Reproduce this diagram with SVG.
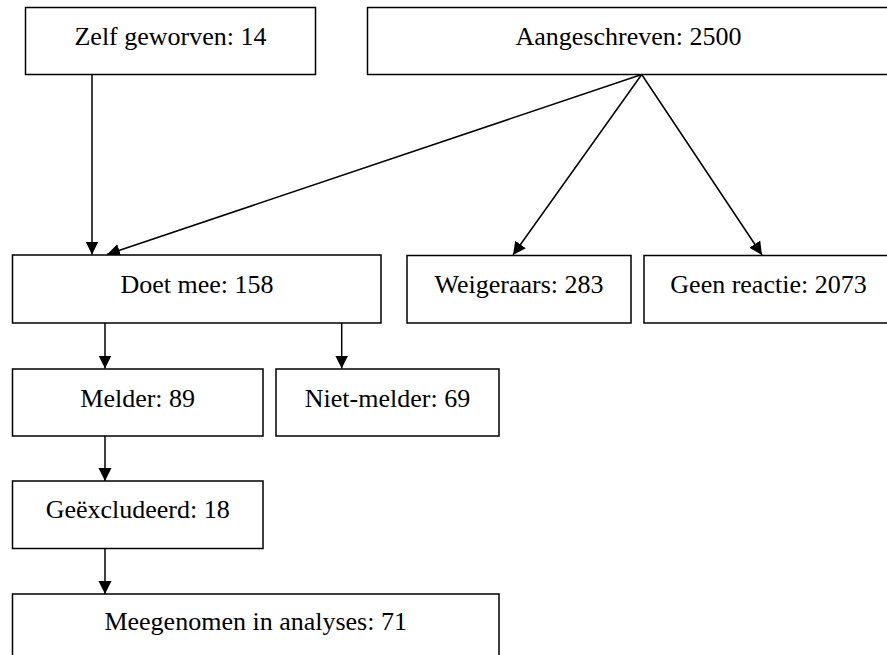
<svg xmlns="http://www.w3.org/2000/svg" width="887" height="655" viewBox="0 0 887 655">
  <defs>
    <style>
      .box { fill: #ffffff; stroke: #000000; stroke-width: 1.5; }
      .lbl { font-family: "Liberation Serif", "Times New Roman", serif; font-size: 26px; fill: #000000; text-anchor: middle; }
      .edge { fill: none; stroke: #000000; stroke-width: 1.5; marker-end: url(#arrow); }
    </style>
    <marker id="arrow" markerUnits="userSpaceOnUse" markerWidth="14" markerHeight="14" refX="13" refY="7" orient="auto">
      <path d="M0,0.5 L13,7 L0,13.5 z" fill="#000000"/>
    </marker>
  </defs>
  <rect x="0" y="0" width="887" height="655" fill="#ffffff"/>

  <g id="connectors">
    <line class="edge" x1="92" y1="74.5" x2="92" y2="254.5"/>
    <line class="edge" x1="641.7" y1="74.5" x2="107" y2="254.5"/>
    <line class="edge" x1="641.7" y1="74.5" x2="513" y2="255"/>
    <line class="edge" x1="641.7" y1="74.5" x2="762" y2="255"/>
    <line class="edge" x1="105" y1="323" x2="105" y2="368.5"/>
    <line class="edge" x1="341.7" y1="323" x2="341.7" y2="368.5"/>
    <line class="edge" x1="105" y1="436" x2="105" y2="481"/>
    <line class="edge" x1="105" y1="549" x2="105" y2="594"/>
  </g>

  <g id="zelf">
    <rect class="box" x="25.5" y="7.5" width="290" height="67"/>
    <text class="lbl" x="170.5" y="45">Zelf geworven: 14</text>
  </g>
  <g id="aangeschreven">
    <rect class="box" x="367.5" y="7.5" width="522" height="67"/>
    <text class="lbl" x="628.5" y="45">Aangeschreven: 2500</text>
  </g>
  <g id="doetmee">
    <rect class="box" x="12.5" y="255" width="368.5" height="68"/>
    <text class="lbl" x="197" y="292.5">Doet mee: 158</text>
  </g>
  <g id="weigeraars">
    <rect class="box" x="407" y="255.5" width="224" height="67.5"/>
    <text class="lbl" x="519" y="292.5">Weigeraars: 283</text>
  </g>
  <g id="geenreactie">
    <rect class="box" x="644" y="255.5" width="249" height="67.5"/>
    <text class="lbl" x="768.5" y="292.5">Geen reactie: 2073</text>
  </g>
  <g id="melder">
    <rect class="box" x="12.5" y="369" width="250.5" height="67"/>
    <text class="lbl" x="137.7" y="406.5">Melder: 89</text>
  </g>
  <g id="nietmelder">
    <rect class="box" x="276" y="369" width="223" height="67"/>
    <text class="lbl" x="387.5" y="406.5">Niet-melder: 69</text>
  </g>
  <g id="geexcludeerd">
    <rect class="box" x="12.5" y="481" width="250.5" height="67.5"/>
    <text class="lbl" x="137.7" y="517.5">Geëxcludeerd: 18</text>
  </g>
  <g id="meegenomen">
    <rect class="box" x="12.5" y="594" width="486.5" height="80"/>
    <text class="lbl" x="255.7" y="630">Meegenomen in analyses: 71</text>
  </g>
</svg>
